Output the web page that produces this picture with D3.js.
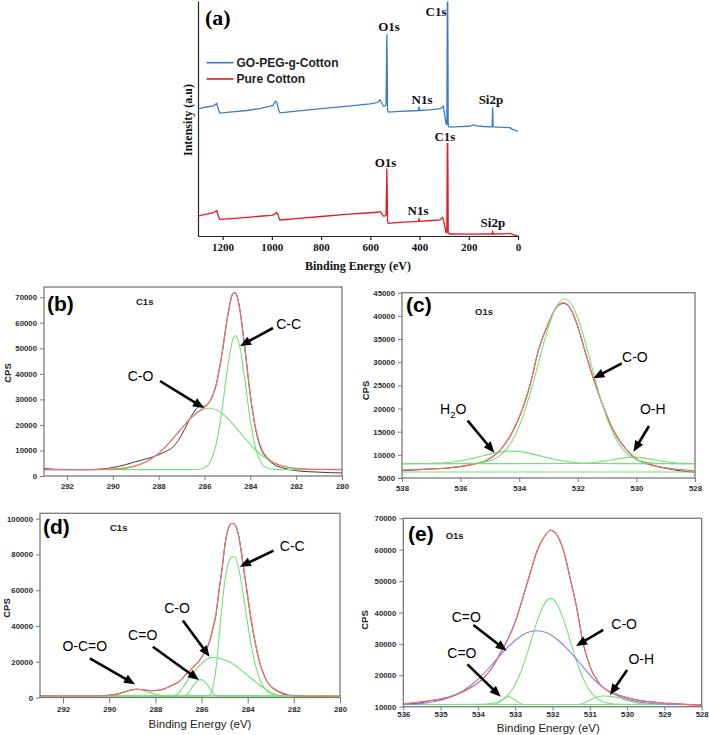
<!DOCTYPE html>
<html>
<head>
<meta charset="utf-8">
<script src="https://cdn.jsdelivr.net/npm/d3@7"></script>
<style>
  html, body { margin: 0; padding: 0; background: #ffffff; }
  svg { display: block; }
</style>
</head>
<body>
<svg id="chart" width="709" height="735"></svg>
<script>
// ===================== DATA =====================
// (a) survey spectra: [binding energy (eV), intensity (a.u.)]
const surveyTicks = [1200, 1000, 800, 600, 400, 200, 0];
const surveySeriesNames = ["GO-PEG-g-Cotton", "Pure Cotton"];
const goPegCotton = [
  [1300,54.1],[1280,54.6],[1260,55.0],[1240,55.3],[1231,55.8],[1224,56.4],[1216,53.5],[1211,52.3],
  [1150,52.9],[1100,53.4],[1050,54.2],[1010,55.2],[995,55.6],[985,57.4],[980,57.0],[972,53.5],[967,52.4],
  [900,53.1],[800,54.2],[700,55.2],[601,56.2],[570,56.8],[561,57.9],[553,56.5],[547,55.3],[540,55.4],
  [536,56],[534,75],[533,85.9],[531.5,75],[530,54],[527,52.7],[480,53.0],[420,53.3],[405,53.4],
  [402,55.0],[399,53.4],[350,53.8],[317,54.2],[308,54.8],[303,55.3],[297,51],[292,47.7],[289,47.5],
  [288,75],[287,99.5],[285.5,99.5],[284.5,75],[283.5,47],[281,46.6],[279,46.3],[240,46.5],[200,46.7],
  [180,47.3],[170,46.9],[140,46.6],[110,46.4],[105,46.4],[103,54.8],[101,46.4],[60,46.2],[32,46.1],
  [25,45.5],[15,45.2],[1,44.5]
];
const pureCotton = [
  [1300,8.5],[1280,9.0],[1260,9.4],[1240,9.8],[1231,10.3],[1224,10.8],[1216,8.0],[1211,7.1],
  [1150,7.5],[1100,7.9],[1050,8.4],[1000,8.8],[990,9.2],[982,10.0],[976,9.4],[970,7.3],[967,6.8],
  [900,7.4],[800,8.3],[700,9.2],[601,9.9],[570,10.1],[561,10.4],[553,9.5],[547,8.5],[540,8.6],
  [536,9],[534,20],[533,28.7],[531.5,20],[530,6.5],[527,5.4],[480,5.8],[420,6.1],[405,6.2],
  [402,7.3],[399,6.2],[350,6.6],[317,6.9],[310,7.5],[306,7.9],[300,5.5],[292,1.4],[289,1.6],
  [288,25],[287,39.3],[285.5,39.3],[284.5,25],[283.5,1.2],[276,0.85],[200,0.8],[110,0.85],[105,0.85],
  [103,2.3],[101,0.85],[60,0.9],[32,1.1],[20,0.6],[1,0.1]
];
// peak labels of the survey: [text, energy, intensity]
const surveyBlueLabels = [["C1s",333,95.5],["O1s",524,89.2],["N1s",390,58.2],["Si2p",110,58.2]];
const surveyRedLabels  = [["C1s",297,42.3],["O1s",538,31.5],["N1s",406,10.8],["Si2p",102,5.7]];

// (b) C1s, pure cotton: [eV, CPS]
const bEnergyTicks = [292, 290, 288, 286, 284, 282, 280];
const bCpsTicks = [0, 10000, 20000, 30000, 40000, 50000, 60000, 70000];
const bMeasured = [
  [293,2900],[292.5,2600],[292,2500],[291,2500],[290.5,2700],[290,3300],[289.5,4300],[289,5600],
  [288.5,6800],[288,8300],[287.7,9600],[287.4,11200],[287.1,14500],[286.8,19500],[286.5,24500],
  [286.3,26800],[286.1,27400],[286,27300],[285.75,29500],[285.5,35400],[285.25,47000],[285,61900],
  [284.75,71500],[284.65,71700],[284.5,67400],[284.25,50900],[284,31700],[283.75,17500],[283.5,10000],
  [283.25,6600],[283,4700],[282.5,3000],[282,2100],[281.5,1700],[281,1500],[280.5,1300],[280,1200]
];
const bEnvelope = [
  [293,2500],[291,2520],[290,2690],[289.5,3060],[289,3950],[288.5,5740],[288,8860],[287.5,13360],
  [287,18670],[286.5,23490],[286.25,25330],[286,26940],[285.75,29510],[285.5,35440],[285.25,46980],
  [285,61930],[284.75,71520],[284.65,71700],[284.5,67380],[284.25,50890],[284,31720],[283.75,17820],
  [283.5,10430],[283.25,7040],[283,5380],[282.5,3710],[282,2960],[281,2600],[280,2600]
];
const bPeakCO = [
  [293,2500],[291,2515],[290,2690],[289.5,3060],[289,3950],[288.5,5740],[288,8860],[287.5,13360],
  [287,18670],[286.5,23490],[286.25,25200],[286,26230],[285.75,26500],[285.5,25920],[285.25,24580],
  [285,22630],[284.75,20240],[284.5,17600],[284.25,14920],[284,12370],[283.75,10080],[283.5,8120],
  [283.25,6530],[283,5290],[282.5,3710],[282,2960],[281,2540],[280,2500]
];
const bPeakCC = [
  [293,2500],[286.75,2500],[286.5,2516],[286.25,2625],[286,3210],[285.75,5510],[285.5,12020],
  [285.25,24900],[285,41800],[284.75,53780],[284.65,55000],[284.5,52280],[284.25,38470],[284,21850],
  [283.75,10240],[283.5,4810],[283.25,3010],[283,2585],[282.5,2500],[280,2500]
];
const bNotes = [
  {label:"C-C", at:[282.33,59500], from:[283.01,57950], to:[284.45,50900]},
  {label:"C-O", at:[288.79,39150], from:[287.94,37200], to:[286.02,26620]}
];

// (c) O1s, pure cotton
const cEnergyTicks = [538, 536, 534, 532, 530, 528];
const cCpsTicks = [5000,10000,15000,20000,25000,30000,35000,40000,45000];
const cMeasured = [
  [538,6600],[537.5,6750],[537,6950],[536.5,7100],[536,7450],[535.5,8050],[535.1,8850],[534.65,11000],
  [534.2,15300],[533.86,20400],[533.57,26500],[533.4,31200],[533,38400],[532.75,41600],[532.49,42700],
  [532.25,41500],[532.04,38400],[531.7,31200],[531.47,26500],[531.13,20400],[530.79,15300],[530.33,11000],
  [529.93,8800],[529.5,7800],[529,7100],[528.5,6550],[528,6250]
];
const cEnvelope = [
  [538,6700],[537,6950],[536.5,7150],[536,7500],[535.5,8100],[535.1,8900],[534.65,11060],[534.2,15390],
  [533.86,20430],[533.57,26580],[533.4,31260],[533,38490],[532.75,41700],[532.49,42810],[532.25,41600],
  [532.04,38490],[531.7,31260],[531.47,26580],[531.13,20430],[530.79,15390],[530.33,11060],[529.93,8900],
  [529.5,7900],[529,7200],[528.5,6800],[528,6500]
];
const cPeakCO = [
  [538,8100],[535.95,8120],[535.45,8239],[535.2,8435],[534.95,8851],[534.7,9663],[534.45,11115],
  [534.2,13480],[533.95,16960],[533.7,21660],[533.45,27290],[533.2,33270],[532.95,38610],[532.7,42350],
  [532.45,43700],[532.2,42350],[531.95,38610],[531.7,33270],[531.45,27290],[531.2,21660],[530.95,16960],
  [530.7,13480],[530.45,11115],[530.2,9663],[529.95,8851],[529.7,8435],[529.45,8239],[528.95,8120],[528,8100]
];
const cPeakH2O = [
  [538,8100],[537.26,8130],[536.76,8220],[536.26,8465],[535.76,8980],[535.26,9740],[534.76,10480],
  [534.26,10800],[533.76,10480],[533.26,9740],[532.76,8980],[532.26,8465],[531.76,8220],[531.26,8130],
  [530.5,8100],[528,8100]
];
const cPeakOH = [
  [538,8100],[532.1,8120],[531.6,8240],[531.1,8600],[530.6,9180],[530.1,9500],[529.6,9180],
  [529.1,8600],[528.6,8240],[528.1,8120],[528,8115]
];
const cLowerBaseline = [[538,6300],[528,6300]];
const cNotes = [
  {label:"C-O", at:[530.05,31050], from:[530.5,29760], to:[531.47,26520]},
  {label:"H2O", at:[536.25,19830], from:[535.76,17370], to:[534.85,10460]},
  {label:"O-H", at:[529.44,19830], from:[529.57,16220], to:[530.1,10680]}
];

// (d) C1s, GO-PEG-g-Cotton
const dEnergyTicks = [292, 290, 288, 286, 284, 282, 280];
const dCpsTicks = [0, 20000, 40000, 60000, 80000, 100000];
const dMeasured = [
  [293,1100],[292,900],[291,950],[290.5,1000],[290,1300],[289.6,2100],[289.3,3300],[289,4300],
  [288.8,4600],[288.5,4200],[288.2,3800],[287.9,4000],[287.6,4900],[287.4,6100],[287.1,7900],
  [286.9,9700],[286.69,12700],[286.4,16600],[286.11,20500],[285.9,24600],[285.68,30300],[285.5,39000],
  [285.38,46000],[285.24,60100],[285.1,73000],[285,84000],[284.9,91500],[284.8,95800],[284.7,97300],
  [284.6,97200],[284.5,95500],[284.4,91000],[284.3,83500],[284.2,74500],[284.1,65500],[284,56500],
  [283.9,47500],[283.8,39500],[283.64,28400],[283.5,20500],[283.35,14500],[283.2,9800],[283,6300],
  [282.76,3900],[282.5,2200],[282.18,1000],[281.75,500],[281,300],[280,200]
];
const dEnvelope = [
  [293,1000],[291.5,900],[290.5,950],[290,1200],[289.6,2000],[289.3,3200],[289,4300],[288.8,4700],
  [288.5,4300],[288.2,3900],[287.9,4000],[287.6,4800],[287.4,6000],[287.1,7800],[286.9,9600],
  [286.69,12600],[286.4,16500],[286.11,20400],[285.9,24500],[285.68,30300],[285.5,39000],[285.38,46000],
  [285.24,60100],[285.1,73000],[285,84000],[284.9,91500],[284.8,95800],[284.7,97300],[284.6,97200],
  [284.5,95500],[284.4,91000],[284.3,83500],[284.2,74500],[284.1,65500],[284,56500],[283.9,47500],
  [283.8,39500],[283.64,28400],[283.5,20500],[283.35,14500],[283.2,9800],[283,6500],[282.76,4200],
  [282.5,2600],[282.18,1400],[281.75,950],[281,800],[280,700]
];
const dPeakCC = [
  [293,900],[285.8,900],[285.6,2000],[285.5,6000],[285.4,13500],[285.3,25000],[285.2,40000],
  [285.1,53000],[285,64000],[284.9,72000],[284.8,76500],[284.7,78500],[284.6,78750],[284.5,77500],
  [284.4,73000],[284.3,66000],[284.2,58000],[284.1,49500],[284,41000],[283.8,26000],[283.6,15000],
  [283.4,8000],[283.2,4000],[283,2100],[282.8,1300],[282.5,950],[280,900]
];
const dPeakCO = [
  [293,900],[287.4,900],[287.1,1500],[286.9,4000],[286.69,7900],[286.5,11500],[286.26,15400],
  [286,19000],[285.82,21000],[285.6,22300],[285.46,22500],[285.2,21800],[285,21000],[284.8,20000],
  [284.6,18500],[284.37,16300],[284.15,14000],[283.93,11600],[283.7,9200],[283.49,7000],[283.25,4800],
  [283.06,3200],[282.85,2000],[282.62,1300],[282.3,950],[280,900]
];
const dPeakCdO = [
  [293,900],[286.75,900],[286.6,2000],[286.48,4200],[286.3,7800],[286.15,9500],[286.04,10000],
  [285.9,9300],[285.75,7200],[285.6,4200],[285.48,2000],[285.35,900],[280,900]
];
const dPeakOCdO = [
  [293,900],[290,950],[289.7,1500],[289.4,2800],[289.15,3900],[288.88,4600],[288.6,4200],
  [288.3,3000],[288,1800],[287.7,1100],[287.4,900],[280,900]
];
const dNotes = [
  {label:"C-C",   at:[282.07,84900], from:[282.88,82100], to:[284.34,73150]},
  {label:"C-O",   at:[287.06,50200], from:[286.81,43000], to:[285.65,22800]},
  {label:"C=O",   at:[288.55,34950], from:[288.11,28400], to:[286.11,9800]},
  {label:"O-C=O", at:[291.06,29000], from:[290.84,21900], to:[288.88,7400]}
];

// (e) O1s, GO-PEG-g-Cotton
const eEnergyTicks = [536, 535, 534, 533, 532, 531, 530, 529, 528];
const eCpsTicks = [10000, 20000, 30000, 40000, 50000, 60000, 70000];
const eMeasured = [
  [536,10700],[535.8,11000],[535.6,11100],[535.3,11900],[535,12300],[534.5,14200],[534.2,16000],
  [533.86,19000],[533.6,22800],[533.4,27000],[533.2,31500],[533,37000],[532.8,44500],[532.6,52500],
  [532.4,60000],[532.2,64500],[532.05,66200],[531.9,65000],[531.7,59500],[531.5,49500],[531.35,41500],
  [531.2,31500],[531,23000],[530.8,18300],[530.55,15300],[530.3,14000],[530.1,13200],[529.8,12300],
  [529.5,11700],[529.2,11400],[529,11000],[528.8,11100],[528.5,10700],[528,10500]
];
const eEnvelope = [
  [536,10900],[535.5,11600],[535,12500],[534.5,14300],[534.2,16000],[533.86,19000],[533.6,22800],
  [533.4,27000],[533.2,31500],[533,37000],[532.8,44500],[532.6,52500],[532.4,60000],[532.2,64500],
  [532.05,66200],[531.9,65000],[531.7,59500],[531.5,49500],[531.35,41500],[531.2,31500],[531,23000],
  [530.8,18300],[530.55,15300],[530.3,14000],[530.1,13200],[529.8,12300],[529.5,11700],[529.2,11300],
  [528.8,11000],[528.5,10800],[528,10600]
];
const ePeakBroad = [
  [536,10750],[535.92,10780],[535.42,11150],[534.92,12300],[534.42,14900],[534.17,17000],[533.92,19600],
  [533.67,22800],[533.42,26100],[533.17,29300],[532.92,31900],[532.67,33600],[532.42,34200],[532.17,33600],
  [531.92,31900],[531.67,29200],[531.42,26000],[531.17,22500],[530.92,19000],[530.67,16300],[530.42,14500],
  [530.17,13000],[529.92,12100],[529.42,11100],[528.92,10800],[528.42,10720],[528,10700]
];
const ePeakCO = [
  [536,10700],[533.85,10790],[533.65,10990],[533.45,11600],[533.25,13050],[533.05,16010],[532.85,21030],
  [532.65,28040],[532.45,35830],[532.25,42090],[532.05,44500],[531.85,42090],[531.65,35830],[531.45,28040],
  [531.25,21030],[531.05,16010],[530.85,13050],[530.65,11600],[530.45,10990],[530.25,10790],[528,10700]
];
const ePeakCdO = [
  [536,10700],[533.6,10700],[533.45,11300],[533.3,12500],[533.17,13200],[533.05,12500],[532.9,11300],
  [532.8,10700],[528,10700]
];
const ePeakOH = [
  [536,10700],[531.35,10700],[531.15,11200],[530.95,12400],[530.8,13100],[530.64,13400],[530.45,13300],
  [530.2,12700],[529.95,11800],[529.7,11100],[529.45,10750],[528,10700]
];
const eNotes = [
  {label:"C=O", at:[534.31,38470], from:[534.12,36000], to:[533.23,27830]},
  {label:"C=O", at:[534.43,27200], from:[534.28,23500], to:[533.39,13200]},
  {label:"C-O", at:[530.08,36340], from:[530.64,34430], to:[531.37,29330]},
  {label:"O-H", at:[529.62,25200], from:[530.0,21700],  to:[530.46,13730]}
];

// ===================== DRAWING =====================
const SANS = "'Liberation Sans', Arial, Helvetica, sans-serif";
const SERIF = "'Liberation Serif', 'Times New Roman', Times, serif";
const COL = {
  blue: "#3a7dc2", red: "#e8191f",
  data: "#3c3c3c", env: "#f07070", comp: "#74e274", broad: "#8080ee", frame: "#7a7a7a"
};

const svg = d3.select("#chart");
svg.append("rect").attr("width", 709).attr("height", 735).attr("fill", "#fff");

// ---------- (a) survey ----------
(function survey() {
  const g = svg.append("g");
  const x = d3.scaleLinear().domain([1300, 0]).range([198, 518]);
  const y = d3.scaleLinear().domain([0, 100]).range([236, 1]);
  const ln = d3.line().x(d => x(d[0])).y(d => y(d[1]));

  const ax = g.append("g").attr("transform", "translate(0,236)")
    .call(d3.axisBottom(x).tickValues(surveyTicks).tickSize(4).tickSizeOuter(0).tickPadding(3).tickFormat(d3.format("d")));
  ax.selectAll("text").attr("font-family", SERIF).attr("font-weight", "bold").attr("font-size", 11).attr("fill", "#111");
  ax.selectAll("line,path").attr("stroke", "#222").attr("stroke-width", 1.2);
  const ay = g.append("g").attr("transform", "translate(198,0)")
    .call(d3.axisLeft(y).tickValues([]).tickSizeOuter(0));
  ay.selectAll("path").attr("stroke", "#222").attr("stroke-width", 1.2);

  g.append("path").datum(goPegCotton).attr("d", ln).attr("fill", "none").attr("stroke", COL.blue).attr("stroke-width", 1.3);
  g.append("path").datum(pureCotton).attr("d", ln).attr("fill", "none").attr("stroke", COL.red).attr("stroke-width", 1.3);

  const lab = (arr) => arr.forEach(([t, e, v]) => {
    g.append("text").attr("x", x(e)).attr("y", y(v)).attr("dy", "0.35em").attr("text-anchor", "middle")
      .attr("font-family", SERIF).attr("font-weight", "bold").attr("font-size", 13).attr("fill", "#111").text(t);
  });
  lab(surveyBlueLabels); lab(surveyRedLabels);

  g.append("text").attr("x", 205).attr("y", 24.5).attr("font-family", SERIF).attr("font-weight", "bold")
    .attr("font-size", 22).attr("fill", "#000").text("(a)");

  // legend
  const leg = [[surveySeriesNames[0], COL.blue, 62.7], [surveySeriesNames[1], COL.red, 79]];
  leg.forEach(([t, c, yy]) => {
    g.append("line").attr("x1", 206.5).attr("x2", 233.5).attr("y1", yy).attr("y2", yy).attr("stroke", c).attr("stroke-width", 1.6);
    g.append("text").attr("x", 236.5).attr("y", yy).attr("dy", "0.36em").attr("font-family", SANS)
      .attr("font-weight", "bold").attr("font-size", 12).attr("fill", "#222").text(t);
  });

  g.append("text").attr("x", 358).attr("y", 269.5).attr("text-anchor", "middle").attr("font-family", SERIF)
    .attr("font-weight", "bold").attr("font-size", 12).attr("fill", "#111").text("Binding Energy (eV)");
  g.append("text").attr("transform", "translate(192,120) rotate(-90)").attr("text-anchor", "middle")
    .attr("font-family", SERIF).attr("font-weight", "bold").attr("font-size", 12).attr("fill", "#111").text("Intensity (a.u)");
})();

// ---------- arrow helper ----------
function arrow(g, x1, y1, x2, y2) {
  const a = Math.atan2(y2 - y1, x2 - x1);
  const L = 11, W = 4.6;
  const bx = x2 - L * Math.cos(a), by = y2 - L * Math.sin(a);
  g.append("line").attr("x1", x1).attr("y1", y1)
    .attr("x2", bx + 2 * Math.cos(a)).attr("y2", by + 2 * Math.sin(a))
    .attr("stroke", "#000").attr("stroke-width", 2.6);
  g.append("path")
    .attr("d", `M${x2},${y2}L${bx - W * Math.sin(a)},${by + W * Math.cos(a)}L${bx + W * Math.sin(a)},${by - W * Math.cos(a)}Z`)
    .attr("fill", "#000");
}

let clipId = 0;
function panel(cfg) {
  const g = svg.append("g");
  const x = d3.scaleLinear().domain(cfg.xDomain).range([cfg.left, cfg.right]);
  const y = d3.scaleLinear().domain(cfg.yDomain).range([cfg.bottom, cfg.top]);
  const id = "clip" + (clipId++);
  g.append("clipPath").attr("id", id).append("rect")
    .attr("x", cfg.left).attr("y", cfg.top).attr("width", cfg.right - cfg.left).attr("height", cfg.bottom - cfg.top);

  const ln = d3.line().x(d => x(d[0])).y(d => y(d[1])).curve(d3.curveMonotoneX);
  const plot = g.append("g").attr("clip-path", `url(#${id})`);
  cfg.curves.forEach(c => {
    plot.append("path").datum(c.data).attr("d", ln).attr("fill", "none")
      .attr("stroke", c.color).attr("stroke-width", c.w || 1.1);
  });

  // axes
  const ax = g.append("g").attr("transform", `translate(0,${cfg.bottom})`)
    .call(d3.axisBottom(x).tickValues(cfg.xTicks).tickSize(cfg.xTickSize).tickSizeOuter(0).tickPadding(cfg.xPad).tickFormat(d3.format("d")));
  const ay = g.append("g").attr("transform", `translate(${cfg.left},0)`)
    .call(d3.axisLeft(y).tickValues(cfg.yTicks).tickSize(4).tickSizeOuter(0).tickPadding(3).tickFormat(d3.format("d")));
  [ax, ay].forEach(a => {
    a.select(".domain").remove();
    a.selectAll("line").attr("stroke", COL.frame).attr("stroke-width", 1);
    a.selectAll("text").attr("font-family", SANS).attr("font-weight", "bold").attr("font-size", 7.8).attr("fill", "#2a2a2a");
  });

  g.append("rect").attr("x", cfg.left).attr("y", cfg.top).attr("width", cfg.right - cfg.left)
    .attr("height", cfg.bottom - cfg.top).attr("fill", "none").attr("stroke", COL.frame).attr("stroke-width", 1.3);

  // panel letter + core level
  g.append("text").attr("x", cfg.letterPos[0]).attr("y", cfg.letterPos[1]).attr("font-family", SANS)
    .attr("font-weight", "bold").attr("font-size", 21).attr("fill", "#000").text(cfg.letter);
  g.append("text").attr("x", cfg.corePos[0]).attr("y", cfg.corePos[1]).attr("font-family", SANS)
    .attr("font-weight", "bold").attr("font-size", 9.5).attr("fill", "#222").text(cfg.core);
  g.append("text").attr("transform", `translate(${cfg.cpsPos[0]},${cfg.cpsPos[1]}) rotate(-90)`)
    .attr("text-anchor", "middle").attr("dy", "0.35em").attr("font-family", SANS).attr("font-weight", "bold")
    .attr("font-size", 9.5).attr("fill", "#222").text("CPS");
  if (cfg.titlePos) {
    g.append("text").attr("x", cfg.titlePos[0]).attr("y", cfg.titlePos[1]).attr("text-anchor", "middle")
      .attr("dy", "0.35em").attr("font-family", SANS).attr("font-size", 11.5).attr("fill", "#222").text("Binding Energy (eV)");
  }

  // annotations
  cfg.notes.forEach(n => {
    arrow(g, x(n.from[0]), y(n.from[1]), x(n.to[0]), y(n.to[1]));
    const t = g.append("text").attr("x", x(n.at[0])).attr("y", y(n.at[1])).attr("dy", "0.36em")
      .attr("text-anchor", "middle").attr("font-family", SANS).attr("font-size", 14).attr("fill", "#000");
    if (n.label === "H2O") {
      t.append("tspan").text("H");
      t.append("tspan").attr("font-size", 9.5).attr("dy", 4).text("2");
      t.append("tspan").attr("dy", -4).text("O");
    } else {
      t.text(n.label);
    }
  });
}

panel({
  left: 44, right: 342, top: 287, bottom: 476,
  xDomain: [293, 280], yDomain: [0, 74000],
  xTicks: bEnergyTicks, yTicks: bCpsTicks, xTickSize: 4, xPad: 3,
  curves: [
    {data: bMeasured, color: COL.data, w: 1},
    {data: bPeakCO, color: COL.comp},
    {data: bPeakCC, color: COL.comp},
    {data: bEnvelope, color: COL.env, w: 1.2}
  ],
  letter: "(b)", letterPos: [47, 310.5], core: "C1s", corePos: [136, 305],
  cpsPos: [8, 373], titlePos: null, notes: bNotes
});

panel({
  left: 402, right: 695, top: 292.7, bottom: 478,
  xDomain: [538, 528], yDomain: [5000, 45000],
  xTicks: cEnergyTicks, yTicks: cCpsTicks, xTickSize: 4, xPad: 3,
  curves: [
    {data: cMeasured, color: COL.data, w: 1},
    {data: cLowerBaseline, color: COL.comp},
    {data: cPeakH2O, color: COL.comp},
    {data: cPeakOH, color: COL.comp},
    {data: cEnvelope, color: COL.env, w: 1.2},
    {data: cPeakCO, color: COL.comp}
  ],
  letter: "(c)", letterPos: [406, 312.2], core: "O1s", corePos: [475, 315],
  cpsPos: [366, 390.5], titlePos: null, notes: cNotes
});

panel({
  left: 40, right: 340, top: 513.3, bottom: 697.5,
  xDomain: [293, 280], yDomain: [0, 103000],
  xTicks: dEnergyTicks, yTicks: dCpsTicks, xTickSize: 6, xPad: 3,
  curves: [
    {data: dMeasured, color: COL.data, w: 1},
    {data: dPeakOCdO, color: COL.comp},
    {data: dPeakCdO, color: COL.comp},
    {data: dPeakCO, color: COL.comp},
    {data: dPeakCC, color: COL.comp},
    {data: dEnvelope, color: COL.env, w: 1.2}
  ],
  letter: "(d)", letterPos: [43, 533.8], core: "C1s", corePos: [110, 531],
  cpsPos: [6.7, 608], titlePos: [200, 723.5], notes: dNotes
});

panel({
  left: 403.3, right: 701.7, top: 518.3, bottom: 706.7,
  xDomain: [536, 528], yDomain: [10000, 70000],
  xTicks: eEnergyTicks, yTicks: eCpsTicks, xTickSize: 4, xPad: 1,
  curves: [
    {data: eMeasured, color: COL.data, w: 1},
    {data: ePeakCdO, color: COL.comp},
    {data: ePeakOH, color: COL.comp},
    {data: ePeakCO, color: COL.comp},
    {data: ePeakBroad, color: COL.broad},
    {data: eEnvelope, color: COL.env, w: 1.2}
  ],
  letter: "(e)", letterPos: [408, 540.5], core: "O1s", corePos: [445.7, 538.5],
  cpsPos: [365, 620], titlePos: [548.3, 727.5], notes: eNotes
});
</script>
</body>
</html>
